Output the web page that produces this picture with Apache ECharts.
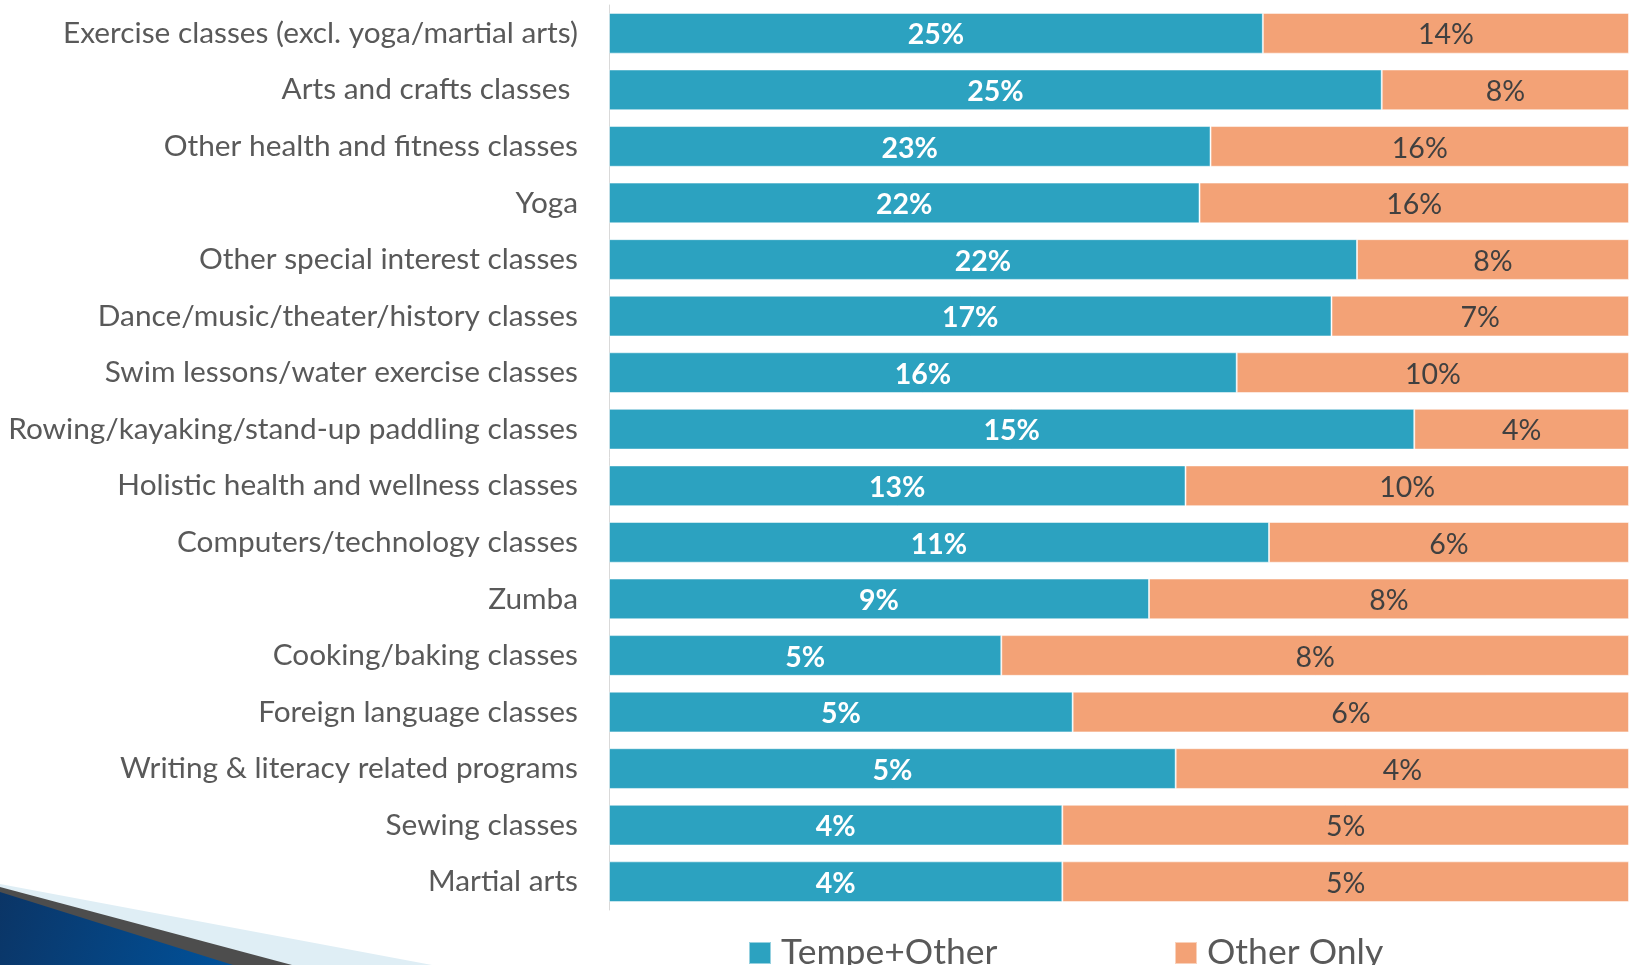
<!DOCTYPE html>
<html>
<head>
<meta charset="utf-8">
<title>Classes taken</title>
<script src="https://cdn.jsdelivr.net/npm/echarts@6/dist/echarts.min.js"></script>
<style>
    html, body {margin: 0; padding: 0; background: #fff;}
    #chart {width: 1634px; height: 965px;}
</style>
</head>
<body>
<div id="chart"></div>
<script>
// 类别（自上而下）
var categories = [
    'Exercise classes (excl. yoga/martial arts)',
    'Arts and crafts classes ',
    'Other health and fitness classes',
    'Yoga',
    'Other special interest classes',
    'Dance/music/theater/history classes',
    'Swim lessons/water exercise classes',
    'Rowing/kayaking/stand-up paddling classes',
    'Holistic health and wellness classes',
    'Computers/technology classes',
    'Zumba',
    'Cooking/baking classes',
    'Foreign language classes',
    'Writing & literacy related programs',
    'Sewing classes',
    'Martial arts'
]
var tempeOther = [25, 25, 23, 22, 22, 17, 16, 15, 13, 11, 9, 5, 5, 5, 4, 4]
var otherOnly = [14, 8, 16, 16, 8, 7, 10, 4, 10, 6, 8, 8, 6, 4, 5, 5]
var seriesNames = ['Tempe+Other', 'Other Only']

var FONT = 'Lato'

// 每行按合计归一成100%
function share(arr, i) {
    return arr[i] / (tempeOther[i] + otherOnly[i])
}
var tempeShare = tempeOther.map((v, i) => ({value: share(tempeOther, i), raw: v}))
var otherShare = otherOnly.map((v, i) => ({value: share(otherOnly, i), raw: v}))

var myChart = echarts.init(document.getElementById('chart'))

var legendText = {fontFamily: FONT, fontSize: 35.5, color: '#595959', padding: [0, 0, 6, 5]}

var option = {
    animation: false,
    backgroundColor: '#fff',
    grid: {left: 609, right: 5, top: 5, height: 905, containLabel: false},
    xAxis: {
        type: 'value', min: 0, max: 1, show: false
    },
    yAxis: {
        type: 'category',
        data: categories,
        inverse: true,
        axisLine: {lineStyle: {color: '#d9d9d9', width: 1}},
        axisTick: {show: false},
        axisLabel: {margin: 31, color: '#595959', fontFamily: FONT, fontSize: 29.8}
    },
    legend: [{
        data: [seriesNames[0]],
        left: 748, top: 935, padding: 0,
        itemWidth: 22, itemHeight: 22, icon: 'rect',
        textStyle: legendText
    }, {
        data: [seriesNames[1]],
        left: 1174, top: 935, padding: 0,
        itemWidth: 22, itemHeight: 22, icon: 'rect',
        textStyle: legendText
    }],
    series: [{
        name: seriesNames[0],
        type: 'bar',
        stack: 'total',
        data: tempeShare,
        barCategoryGap: '28%',
        itemStyle: {color: '#2ca2c0', borderColor: 'rgba(255,255,255,0.5)', borderWidth: 1},
        label: {
            show: true, position: 'inside', offset: [0, 2],
            color: '#fff', fontFamily: FONT, fontWeight: 'bold', fontSize: 28.5,
            formatter: p => p.data.raw + '%'
        }
    }, {
        name: seriesNames[1],
        type: 'bar',
        stack: 'total',
        data: otherShare,
        barCategoryGap: '28%',
        itemStyle: {color: '#f3a276', borderColor: 'rgba(255,255,255,0.5)', borderWidth: 1},
        label: {
            show: true, position: 'inside', offset: [0, 2],
            color: '#404040', fontFamily: FONT, fontSize: 28.5,
            formatter: p => p.data.raw + '%'
        }
    }],
    // 左下角装饰
    graphic: [
        {type: 'polygon', shape: {points: [[0, 884], [432, 965], [0, 965]]}, style: {fill: '#dfeef5'}, silent: true},
        {type: 'polygon', shape: {points: [[0, 887], [292, 965], [0, 965]]}, style: {fill: '#4d4d4d'}, silent: true},
        {
            type: 'polygon', shape: {points: [[0, 892], [233, 965], [0, 965]]}, silent: true,
            style: {
                fill: new echarts.graphic.LinearGradient(0, 0, 1, 1, [
                    {offset: 0, color: '#0b3566'},
                    {offset: 1, color: '#00529b'}
                ])
            }
        }
    ]
}
myChart.setOption(option)
</script>
</body>
</html>
